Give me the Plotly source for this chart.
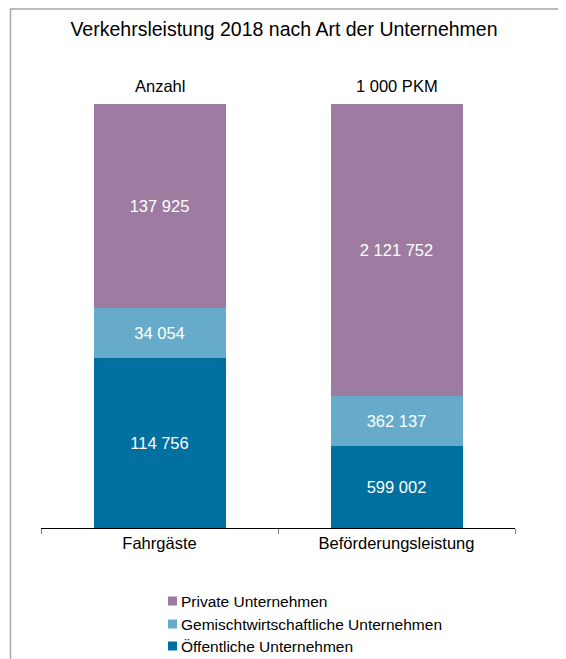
import plotly.graph_objects as go

categories = ["Fahrgäste", "Beförderungsleistung"]
units = ["Anzahl", "1 000 PKM"]
series_names = ["Öffentliche Unternehmen", "Gemischtwirtschaftliche Unternehmen", "Private Unternehmen"]
oeffentlich = [114756, 599002]
gemischt = [34054, 362137]
privat = [137925, 2121752]
title_text = "Verkehrsleistung 2018 nach Art der Unternehmen"

colors = ["#0070A0", "#66ACCA", "#9E7CA2"]
values = [oeffentlich, gemischt, privat]

OFF = 8  # page body margin
W, H = 566 - OFF, 659 - OFF
# plot area in page pixels: x 41..515, y 104..528
L = 41 - OFF
R = W - (515 - OFF)
T = 104 - OFF
B = H - (528 - OFF)
PW, PH = W - L - R, H - T - B


def px_x(px):
    return (px - OFF - L) / PW


def px_y(py):
    return (H - B - (py - OFF)) / PH


FONT = "Liberation Sans, Arial, sans-serif"


def fmt(v):
    return f"{v:,}".replace(",", " ")


fig = go.Figure()
for name, vals, col in zip(series_names, values, colors):
    fig.add_trace(go.Bar(
        x=categories, y=vals, name=name, marker=dict(color=col, line=dict(width=0)),
        text=[fmt(v) for v in vals], texttemplate="%{text}", textposition="inside",
        insidetextanchor="middle", textangle=0,
        textfont=dict(color="white", size=16.5, family=FONT), showlegend=False,
    ))

annotations = []
for cat, u in zip(categories, units):
    annotations.append(dict(x=cat, xref="x", y=px_y(86), yref="paper", text=u, showarrow=False,
                            font=dict(size=16.5, color="black", family=FONT), xanchor="center", yanchor="middle"))

shapes = []
# legend (top to bottom: Private, Gemischt, Öffentliche)
row_y = [601, 624, 646]
for i, (name, col) in enumerate(zip(series_names[::-1], colors[::-1])):
    cy = row_y[i]
    shapes.append(dict(type="rect", xref="paper", yref="paper",
                       x0=px_x(168), x1=px_x(177), y0=px_y(cy - 4.5), y1=px_y(cy + 4.5),
                       fillcolor=col, line=dict(width=0)))
    annotations.append(dict(x=px_x(179), xref="paper", y=px_y(cy), yref="paper", text=name,
                            showarrow=False, xanchor="left", yanchor="middle",
                            font=dict(size=15.5, color="black", family=FONT)))

# outer frame
shapes.append(dict(type="path", xref="paper", yref="paper",
                   path=f"M {px_x(10.5)},{px_y(680)} L {px_x(10.5)},{px_y(9)} L {px_x(600)},{px_y(9)}",
                   line=dict(color="#A6A6A6", width=1.5)))

fig.update_layout(
    width=W, height=H,
    margin=dict(l=L, r=R, t=T, b=B, pad=0),
    barmode="stack", barnorm="percent", bargap=0.443,
    paper_bgcolor="white", plot_bgcolor="white",
    title=dict(text=title_text, x=(284 - OFF) / W, xanchor="center", y=1 - (29 - OFF) / H, yanchor="middle",
               font=dict(size=19.5, color="black", family=FONT)),
    xaxis=dict(type="category", range=[-0.5, 1.5], showline=True, linecolor="black", linewidth=1,
               ticks="outside", tickson="boundaries", ticklen=5, tickcolor="#808080",
               tickfont=dict(size=16.5, color="black", family=FONT), showgrid=False, zeroline=False),
    yaxis=dict(range=[0, 100], visible=False, showgrid=False, zeroline=False),
    showlegend=False,
    annotations=annotations, shapes=shapes,
    uniformtext=dict(minsize=16.5, mode="show"),
)

fig.write_html("out.html")
